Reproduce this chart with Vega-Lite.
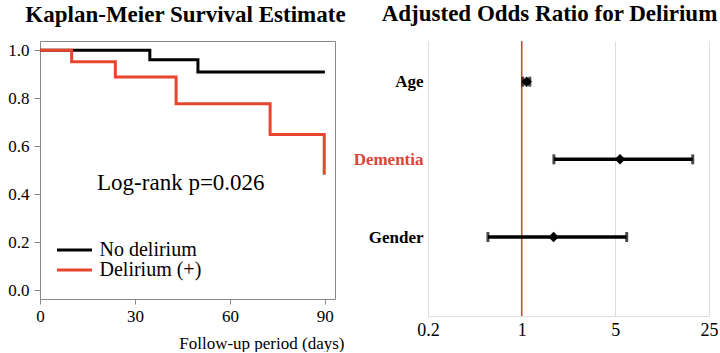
{
  "$schema": "https://vega.github.io/schema/vega-lite/v6.json",
  "padding": {"left": 5, "top": 3, "right": 0, "bottom": 0},
  "background": "white",
  "bounds": "flush",
  "spacing": 93,
  "config": {"font": "Liberation Serif", "view": {"stroke": null}, "title": {"font": "Liberation Serif"}},
  "datasets": {
    "km": [
      {"group": "No delirium", "t": 0, "s": 1.0},
      {"group": "No delirium", "t": 34.7, "s": 0.961},
      {"group": "No delirium", "t": 49.9, "s": 0.910},
      {"group": "No delirium", "t": 90, "s": 0.910},
      {"group": "Delirium (+)", "t": 0, "s": 1.0},
      {"group": "Delirium (+)", "t": 10, "s": 0.953},
      {"group": "Delirium (+)", "t": 23.8, "s": 0.889},
      {"group": "Delirium (+)", "t": 43, "s": 0.778},
      {"group": "Delirium (+)", "t": 72.7, "s": 0.649},
      {"group": "Delirium (+)", "t": 89.8, "s": 0.482}
    ],
    "ann": [{"t": 44.5, "s": 0.418, "txt": "Log-rank p=0.026"}],
    "or": [
      {"label": "Age", "or": 1.09, "lo": 1.02, "hi": 1.15},
      {"label": "Dementia", "or": 5.42, "lo": 1.74, "hi": 18.9},
      {"label": "Gender", "or": 1.73, "lo": 0.56, "hi": 6.08}
    ],
    "ref": [{"x": 1}]
  },
  "hconcat": [
    {
      "width": 295,
      "height": 258,
      "view": {"stroke": "#888", "strokeWidth": 1},
      "title": {"text": "Kaplan-Meier Survival Estimate", "font": "Liberation Serif", "fontSize": 23, "fontWeight": "bold", "color": "black", "offset": 14, "dx": -2, "anchor": "middle"},
      "layer": [
        {
          "data": {"name": "km"},
          "transform": [{"filter": "datum.group == 'No delirium'"}],
          "mark": {"type": "line", "interpolate": "step-after", "strokeWidth": 3},
          "encoding": {
            "x": {"field": "t", "type": "quantitative", "scale": {"domain": [0, 93.2], "nice": false, "zero": false},
              "axis": {"values": [0, 30, 60, 90], "labelFlush": false, "title": "Follow-up period (days)", "titleFontSize": 17, "titleFontWeight": "normal", "titleFont": "Liberation Serif", "titleColor": "black", "titleAlign": "right", "titleBaseline": "alphabetic", "titleX": 304, "titleY": 49, "labelFontSize": 17, "labelColor": "black", "labelFont": "Liberation Serif", "tickSize": 5, "tickColor": "#888", "domain": false, "grid": false, "labelPadding": 4}},
            "y": {"field": "s", "type": "quantitative", "scale": {"domain": [-0.036, 1.039], "nice": false, "zero": false},
              "axis": {"values": [0, 0.2, 0.4, 0.6, 0.8, 1.0], "labelFlush": false, "format": ".1f", "title": null, "labelFontSize": 17, "labelColor": "black", "labelFont": "Liberation Serif", "tickSize": 6, "tickColor": "#888", "domain": false, "grid": false, "labelPadding": 5, "minExtent": 34, "maxExtent": 34}},
            "color": {"field": "group", "type": "nominal", "scale": {"domain": ["No delirium", "Delirium (+)"], "range": ["#000000", "#e8452f"]},
              "legend": {"orient": "none", "legendX": 24.5, "legendY": 199, "title": null, "symbolType": "M-2.5,0H2.5", "symbolSize": 196, "symbolStrokeWidth": 3, "labelFontSize": 20, "labelFont": "Liberation Serif", "labelColor": "black", "padding": 0, "rowPadding": -1, "labelOffset": 15}}
          }
        },
        {
          "data": {"name": "km"},
          "transform": [{"filter": "datum.group == 'Delirium (+)'"}],
          "mark": {"type": "line", "interpolate": "step-after", "strokeWidth": 3},
          "encoding": {
            "x": {"field": "t", "type": "quantitative"},
            "y": {"field": "s", "type": "quantitative"},
            "color": {"field": "group", "type": "nominal"}
          }
        },
        {
          "data": {"name": "ann"},
          "mark": {"type": "text", "fontSize": 23, "font": "Liberation Serif", "align": "center", "baseline": "alphabetic", "color": "black"},
          "encoding": {
            "x": {"field": "t", "type": "quantitative"},
            "y": {"field": "s", "type": "quantitative"},
            "text": {"field": "txt"}
          }
        }
      ]
    },
    {
      "width": 281,
      "height": 275,
      "title": {"text": "Adjusted Odds Ratio for Delirium", "font": "Liberation Serif", "fontSize": 23, "fontWeight": "bold", "color": "black", "offset": 14, "dx": -19, "anchor": "middle"},
      "layer": [
        {
          "data": {"name": "ref"},
          "mark": {"type": "rule", "color": "#c9503c", "strokeWidth": 1.5},
          "encoding": {
            "x": {"field": "x", "type": "quantitative", "scale": {"type": "log", "domain": [0.2, 25], "nice": false},
              "axis": {"values": [0.2, 1, 5, 25], "labelFlush": false, "format": "~g", "title": null, "labelFontSize": 18, "labelFont": "Liberation Serif", "labelColor": "black", "ticks": false, "grid": true, "gridColor": "#dddddd", "domain": true, "domainColor": "#dddddd", "labelPadding": 5}}
          }
        },
        {
          "data": {"name": "or"},
          "mark": {"type": "rule", "color": "black", "strokeWidth": 3.5},
          "encoding": {
            "x": {"field": "lo", "type": "quantitative"},
            "x2": {"field": "hi"},
            "y": {"field": "label", "type": "nominal", "scale": {"type": "point", "domain": ["Age", "Dementia", "Gender"], "padding": 0.77, "align": 0.34},
              "axis": {"title": null, "ticks": false, "domain": false, "grid": false, "labelFontSize": 17, "labelFontWeight": "bold", "labelFont": "Liberation Serif", "labelPadding": 5, "labelColor": {"condition": {"test": "datum.value == 'Dementia'", "value": "#d9473a"}, "value": "black"}}}
          }
        },
        {
          "data": {"name": "or"},
          "mark": {"type": "tick", "orient": "vertical", "color": "black", "thickness": 3, "size": 10},
          "encoding": {
            "x": {"field": "lo", "type": "quantitative"},
            "y": {"field": "label", "type": "nominal"}
          }
        },
        {
          "data": {"name": "or"},
          "mark": {"type": "tick", "orient": "vertical", "color": "black", "thickness": 3, "size": 10},
          "encoding": {
            "x": {"field": "hi", "type": "quantitative"},
            "y": {"field": "label", "type": "nominal"}
          }
        },
        {
          "data": {"name": "or"},
          "mark": {"type": "point", "shape": "diamond", "filled": true, "color": "black", "size": 110, "opacity": 1},
          "encoding": {
            "x": {"field": "or", "type": "quantitative"},
            "y": {"field": "label", "type": "nominal"}
          }
        }
      ]
    }
  ]
}
